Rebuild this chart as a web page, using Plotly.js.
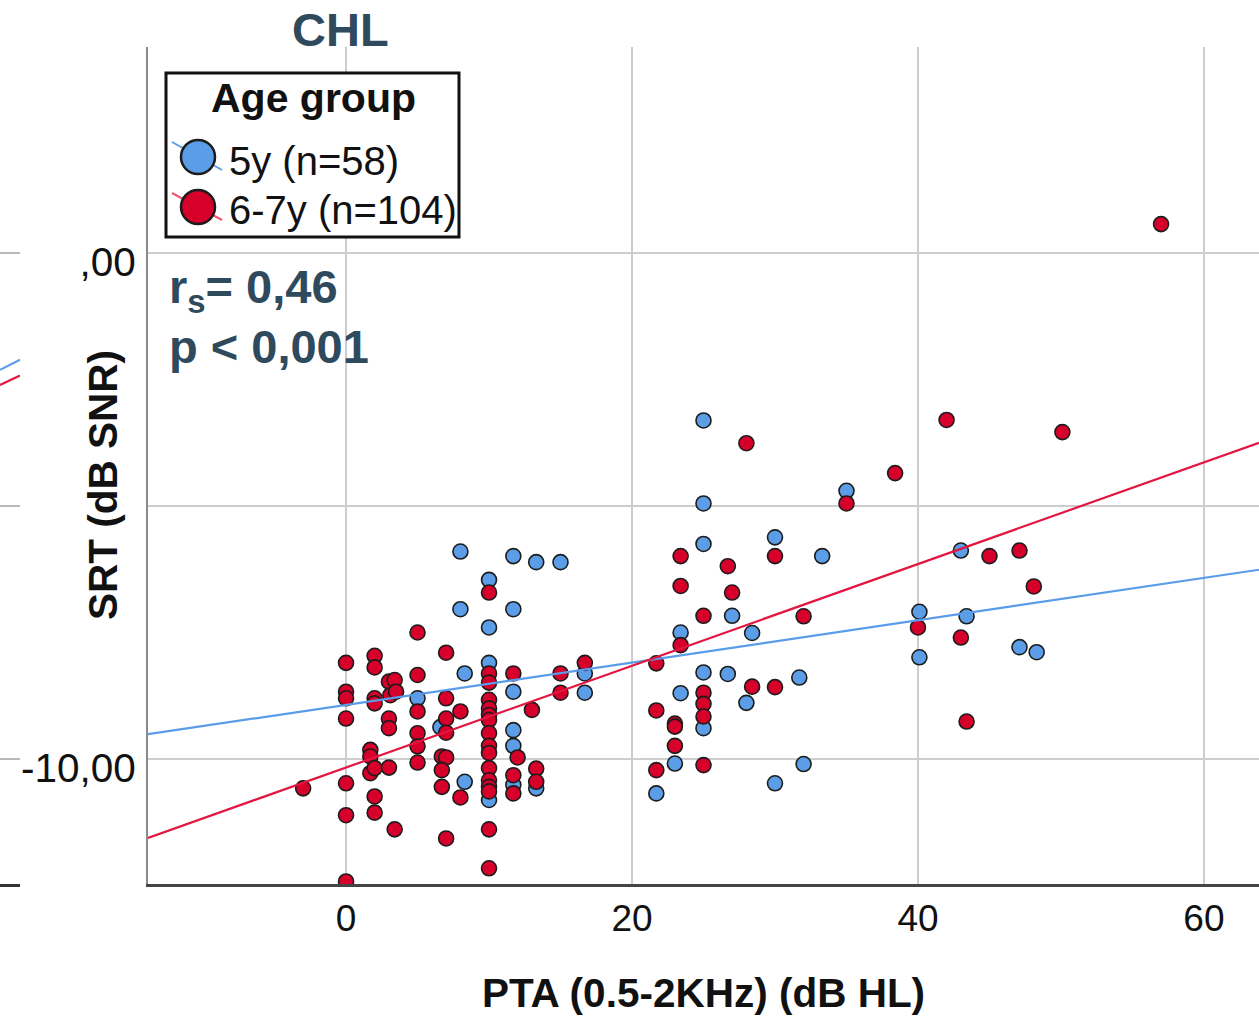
<!DOCTYPE html>
<html>
<head>
<meta charset="utf-8">
<script src="https://cdn.plot.ly/plotly-3.0.1.min.js"></script>
<style>
  html, body { margin: 0; padding: 0; background: #ffffff; }
  #chart { width: 1259px; height: 1016px; }
</style>
</head>
<body>
<div id="chart"></div>
<script>
// ---- Data ----
const groupLabels = ['5y (n=58)', '6-7y (n=104)'];
const legendTitle = 'Age group';
const panelTitle = 'CHL';
const statLine1 = 'r<sub>s</sub>= 0,46';
const statLine2 = 'p &lt; 0,001';
const xTitle = 'PTA (0.5-2KHz) (dB HL)';
const yTitle = 'SRT (dB SNR)';

const xTickVals = [0, 20, 40, 60];
const xTickText = ['0', '20', '40', '60'];
const yTickVals = [0, -10];
const yTickText = [',00', '-10,00'];
const yGridVals = [0, -5, -10];
const yUnlabelledGrid = [-5];

// 5y group (blue)
const blueX = [8.0, 11.7, 13.3, 15.0, 10.0, 8.0, 11.7, 10.0, 10.0, 8.3,
               11.7, 16.7, 16.7, 5.0, 6.6, 11.7, 11.7, 11.7, 13.3, 10.0,
               8.3, 25.0, 25.0, 25.0, 30.0, 33.3, 35.0, 23.4, 28.4, 27.0,
               25.0, 26.7, 31.7, 23.4, 28.0, 25.0, 23.0, 32.0, 21.7, 30.0,
               40.1, 40.1, 43.0, 43.4, 47.1, 48.3];
const blueY = [-5.90, -5.99, -6.11, -6.11, -6.46, -7.04, -7.04, -7.40, -8.10, -8.31,
               -8.67, -8.31, -8.69, -8.80, -9.37, -9.43, -9.74, -10.51, -10.58, -10.81,
               -10.45, -3.31, -4.95, -5.75, -5.62, -5.99, -4.70, -7.50, -7.51, -7.17,
               -8.29, -8.32, -8.39, -8.70, -8.89, -9.39, -10.09, -10.10, -10.68, -10.48,
               -7.09, -7.99, -5.88, -7.18, -7.79, -7.89];

// 6-7y group (red)
const redX = [-3.0, 0, 0, 0, 0, 0, 0, 0, 1.7, 1.7,
              1.7, 2.0, 2.0, 2.0, 2.0, 2.0, 2.0, 2.0, 3.0, 3.4,
              3.1, 3.5, 3.0, 3.0, 3.0, 3.4, 5.0, 5.0, 5.0, 5.0,
              5.0, 5.0, 7.0, 7.0, 7.0, 7.0, 6.7, 7.0, 6.7, 6.7,
              7.0, 8.0, 8.0, 10, 10, 10, 10, 10, 10, 10,
              10, 10, 10, 10, 10, 10, 10, 10, 10, 11.7,
              12.0, 11.7, 11.7, 13.0, 13.3, 13.3, 15.0, 15.0, 16.7, 21.7,
              21.7, 21.7, 23.4, 23.4, 23.4, 23.0, 23.0, 23.0, 25.0, 25.0,
              25.0, 25.0, 25.0, 26.7, 27.0, 28.0, 28.4, 30.0, 30.0, 32.0,
              35.0, 38.4, 40.0, 42.0, 43.0, 43.4, 45.0, 47.1, 48.1, 50.1,
              57.0];
const redY = [-10.58, -8.10, -8.67, -8.80, -9.20, -10.48, -11.11, -12.42, -9.82, -9.95,
              -10.28, -7.96, -8.19, -8.80, -8.90, -10.18, -10.74, -11.06, -8.47, -8.44,
              -8.74, -8.67, -9.20, -9.39, -10.17, -11.39, -7.50, -8.34, -9.06, -9.49,
              -9.75, -10.07, -7.90, -8.80, -9.20, -9.48, -9.95, -9.97, -10.22, -10.55,
              -11.57, -9.06, -10.76, -6.71, -8.31, -8.49, -8.83, -9.00, -9.13, -9.23,
              -9.49, -9.74, -9.88, -10.18, -10.42, -10.55, -10.64, -11.39, -12.16, -8.31,
              -9.97, -10.32, -10.68, -9.03, -10.19, -10.45, -8.31, -8.69, -8.10, -8.11,
              -9.04, -10.22, -5.99, -6.58, -7.75, -9.30, -9.36, -9.74, -7.17, -8.69,
              -8.91, -9.16, -10.12, -6.19, -6.71, -3.76, -8.57, -5.99, -8.58, -7.18,
              -4.95, -4.35, -7.40, -3.30, -7.60, -9.26, -5.99, -5.88, -6.59, -3.54,
              0.57];

// Fit lines (end points read at the plot edges)
const fitX = [-13.85, 63.85];
const blueFitY = [-9.51, -6.26];
const redFitY = [-11.56, -3.75];

// Remnant of the neighbouring panel at the far left
const leftX = [0, 1];
const leftBlueY = [-2.31, -2.11];
const leftRedY = [-2.61, -2.42];

// ---- Styles ----
const FONT = 'Arial, "Liberation Sans", Helvetica, sans-serif';
const BLUE = '#5b9de6';
const RED = '#d6002b';
const BLUE_LINE = '#5a9cea';
const RED_LINE = '#e3163f';
const TITLE_COLOR = '#2e4a5c';

const W = 1259, H = 1016, MT = 47, MB = 132;
const plotH = H - MT - MB;
const px = v => v / W;                 // pixel x -> paper
const py = v => (H - MB - v) / plotH;  // pixel y -> paper

const markerStyle = (c) => ({ size: 15, color: c, line: { color: '#1c1c1c', width: 1.6 } });

const traces = [
  { type: 'scatter', mode: 'markers', x: blueX, y: blueY, name: groupLabels[0],
    marker: markerStyle(BLUE), xaxis: 'x', yaxis: 'y', showlegend: false, hoverinfo: 'x+y' },
  { type: 'scatter', mode: 'markers', x: redX, y: redY, name: groupLabels[1],
    marker: markerStyle(RED), xaxis: 'x', yaxis: 'y', showlegend: false, hoverinfo: 'x+y' },
  { type: 'scatter', mode: 'lines', x: fitX, y: blueFitY, line: { color: BLUE_LINE, width: 2.2 },
    xaxis: 'x', yaxis: 'y', showlegend: false, hoverinfo: 'skip' },
  { type: 'scatter', mode: 'lines', x: fitX, y: redFitY, line: { color: RED_LINE, width: 2.2 },
    xaxis: 'x', yaxis: 'y', showlegend: false, hoverinfo: 'skip' },
  { type: 'scatter', mode: 'lines', x: leftX, y: leftBlueY, line: { color: BLUE_LINE, width: 2.2 },
    xaxis: 'x2', yaxis: 'y2', showlegend: false, hoverinfo: 'skip' },
  { type: 'scatter', mode: 'lines', x: leftX, y: leftRedY, line: { color: RED_LINE, width: 2.2 },
    xaxis: 'x2', yaxis: 'y2', showlegend: false, hoverinfo: 'skip' }
];

const yRange = [-12.47, 4.07];
const GRID = '#cdcdcd';

const layout = {
  width: W, height: H,
  margin: { l: 0, r: 0, t: MT, b: MB, pad: 0 },
  paper_bgcolor: '#ffffff', plot_bgcolor: '#ffffff',
  font: { family: FONT, color: '#111111' },
  showlegend: false,
  xaxis: {
    domain: [148 / W, 1], range: [-13.85, 63.85], anchor: 'y',
    tickvals: xTickVals, ticktext: xTickText, ticks: '',
    tickfont: { family: FONT, size: 37, color: '#111111' },
    ticklabelstandoff: 0,
    showgrid: true, gridcolor: GRID, gridwidth: 2,
    zeroline: false, showline: true, linecolor: '#444444', linewidth: 2.5,
    title: { text: '<b>' + xTitle + '</b>', font: { family: FONT, size: 40.5, color: '#111111' }, standoff: 50 }
  },
  yaxis: {
    domain: [0, 1], range: yRange, anchor: 'x',
    tickvals: yTickVals, ticktext: yTickText, ticks: '',
    tickfont: { family: FONT, size: 40.5, color: '#111111' },
    ticklabelstandoff: 2, ticklabelshift: 9,
    showgrid: true, gridcolor: GRID, gridwidth: 2,
    minor: { tickvals: yUnlabelledGrid, showgrid: true, gridcolor: GRID, gridwidth: 2, ticks: '' },
    zeroline: false, showline: true, linecolor: '#8a8a8a', linewidth: 2
  },
  xaxis2: {
    domain: [0, 20 / W], range: [0, 1], anchor: 'y2',
    showticklabels: false, ticks: '', showgrid: false, zeroline: false,
    showline: true, linecolor: '#333333', linewidth: 3
  },
  yaxis2: {
    domain: [0, 1], range: yRange, anchor: 'x2',
    tickvals: yGridVals, showticklabels: false, ticks: '',
    showgrid: true, gridcolor: '#b8b8b8', gridwidth: 2,
    zeroline: false, showline: false
  },
  shapes: [
    // legend box
    { type: 'rect', xref: 'paper', yref: 'paper', layer: 'above',
      x0: px(166), x1: px(459), y0: py(237), y1: py(73),
      line: { color: '#111111', width: 3 }, fillcolor: '#ffffff' },
    // legend line samples
    { type: 'line', xref: 'paper', yref: 'paper', layer: 'above',
      x0: px(172), y0: py(142), x1: px(222), y1: py(170),
      line: { color: BLUE_LINE, width: 2 } },
    { type: 'line', xref: 'paper', yref: 'paper', layer: 'above',
      x0: px(172), y0: py(193), x1: px(222), y1: py(220),
      line: { color: '#ee5570', width: 2 } },
    // legend marker samples
    { type: 'circle', xref: 'paper', yref: 'paper', layer: 'above',
      xsizemode: 'pixel', ysizemode: 'pixel', xanchor: px(198), yanchor: py(157),
      x0: -17, x1: 17, y0: -17, y1: 17,
      line: { color: '#1c1c1c', width: 2.5 }, fillcolor: BLUE },
    { type: 'circle', xref: 'paper', yref: 'paper', layer: 'above',
      xsizemode: 'pixel', ysizemode: 'pixel', xanchor: px(198), yanchor: py(207),
      x0: -17, x1: 17, y0: -17, y1: 17,
      line: { color: '#1c1c1c', width: 2.5 }, fillcolor: RED }
  ],
  annotations: [
    { text: '<b>' + panelTitle + '</b>', xref: 'paper', yref: 'paper',
      x: px(340), y: py(29), xanchor: 'center', yanchor: 'middle', showarrow: false,
      font: { family: FONT, size: 47, color: TITLE_COLOR } },
    { text: '<b>' + statLine1 + '</b>', xref: 'paper', yref: 'paper',
      x: px(167), y: py(290), xanchor: 'left', yanchor: 'middle', showarrow: false,
      font: { family: FONT, size: 47, color: TITLE_COLOR } },
    { text: '<b>' + statLine2 + '</b>', xref: 'paper', yref: 'paper',
      x: px(167), y: py(346), xanchor: 'left', yanchor: 'middle', showarrow: false,
      font: { family: FONT, size: 47, color: TITLE_COLOR } },
    { text: '<b>' + yTitle + '</b>', xref: 'paper', yref: 'paper', textangle: -90,
      x: px(103), y: py(485), xanchor: 'center', yanchor: 'middle', showarrow: false,
      font: { family: FONT, size: 40.5, color: '#111111' } },
    { text: '<b>' + legendTitle + '</b>', xref: 'paper', yref: 'paper',
      x: px(313), y: py(98), xanchor: 'center', yanchor: 'middle', showarrow: false,
      font: { family: FONT, size: 41, color: '#111111' } },
    { text: groupLabels[0], xref: 'paper', yref: 'paper',
      x: px(227), y: py(161), xanchor: 'left', yanchor: 'middle', showarrow: false,
      font: { family: FONT, size: 40, color: '#111111' } },
    { text: groupLabels[1], xref: 'paper', yref: 'paper',
      x: px(227), y: py(210), xanchor: 'left', yanchor: 'middle', showarrow: false,
      font: { family: FONT, size: 40, color: '#111111' } }
  ]
};

Plotly.newPlot('chart', traces, layout, { displayModeBar: false, staticPlot: true });
</script>
</body>
</html>
